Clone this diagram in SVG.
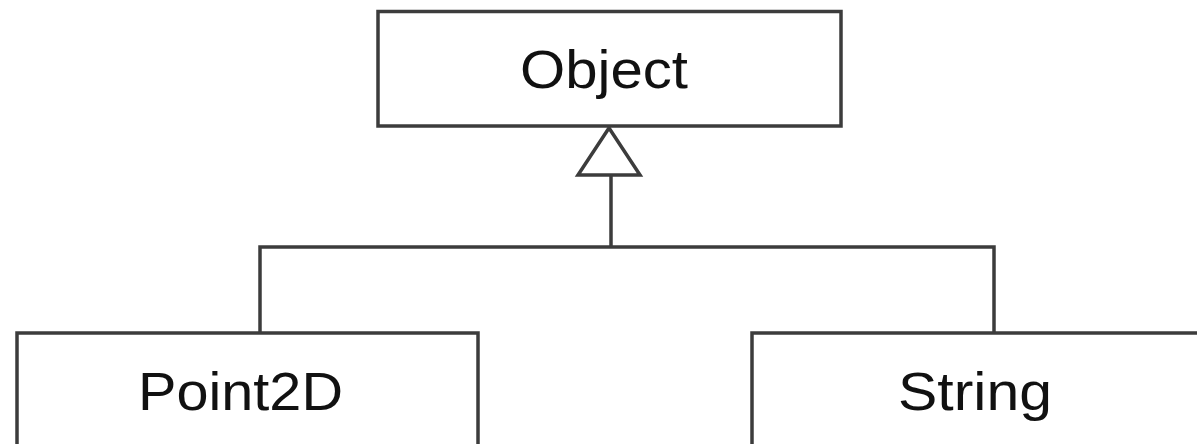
<svg xmlns="http://www.w3.org/2000/svg" width="1197" height="444" viewBox="0 0 1197 444">
<style>
.box{fill:#fff;stroke:#3c3c3c;stroke-width:3.5}
.lbl{font-family:"Liberation Sans",Arial,sans-serif;font-size:53px;fill:#111;text-anchor:middle}
.conn{fill:none;stroke:#3c3c3c;stroke-width:3.5}
</style>
<rect width="1197" height="444" fill="#fff"/>
<g id="node-object">
<rect class="box" x="378" y="11.5" width="463" height="114.5"/>
<text class="lbl" x="604" y="88" textLength="168" lengthAdjust="spacingAndGlyphs">Object</text>
</g>
<g id="node-point2d">
<rect class="box" x="17" y="333" width="461" height="140"/>
<text class="lbl" x="240.5" y="410" textLength="205" lengthAdjust="spacingAndGlyphs">Point2D</text>
</g>
<g id="node-string">
<rect class="box" x="752" y="333" width="480" height="140"/>
<text class="lbl" x="975" y="410" textLength="154" lengthAdjust="spacingAndGlyphs">String</text>
</g>
<g id="connectors">
<polygon class="conn" points="609,128 578,175 640,175" fill="#fff"/>
<path class="conn" d="M611,175 V247 M260,247 H994 M260,245.3 V333 M994,245.3 V333"/>
</g>
</svg>
